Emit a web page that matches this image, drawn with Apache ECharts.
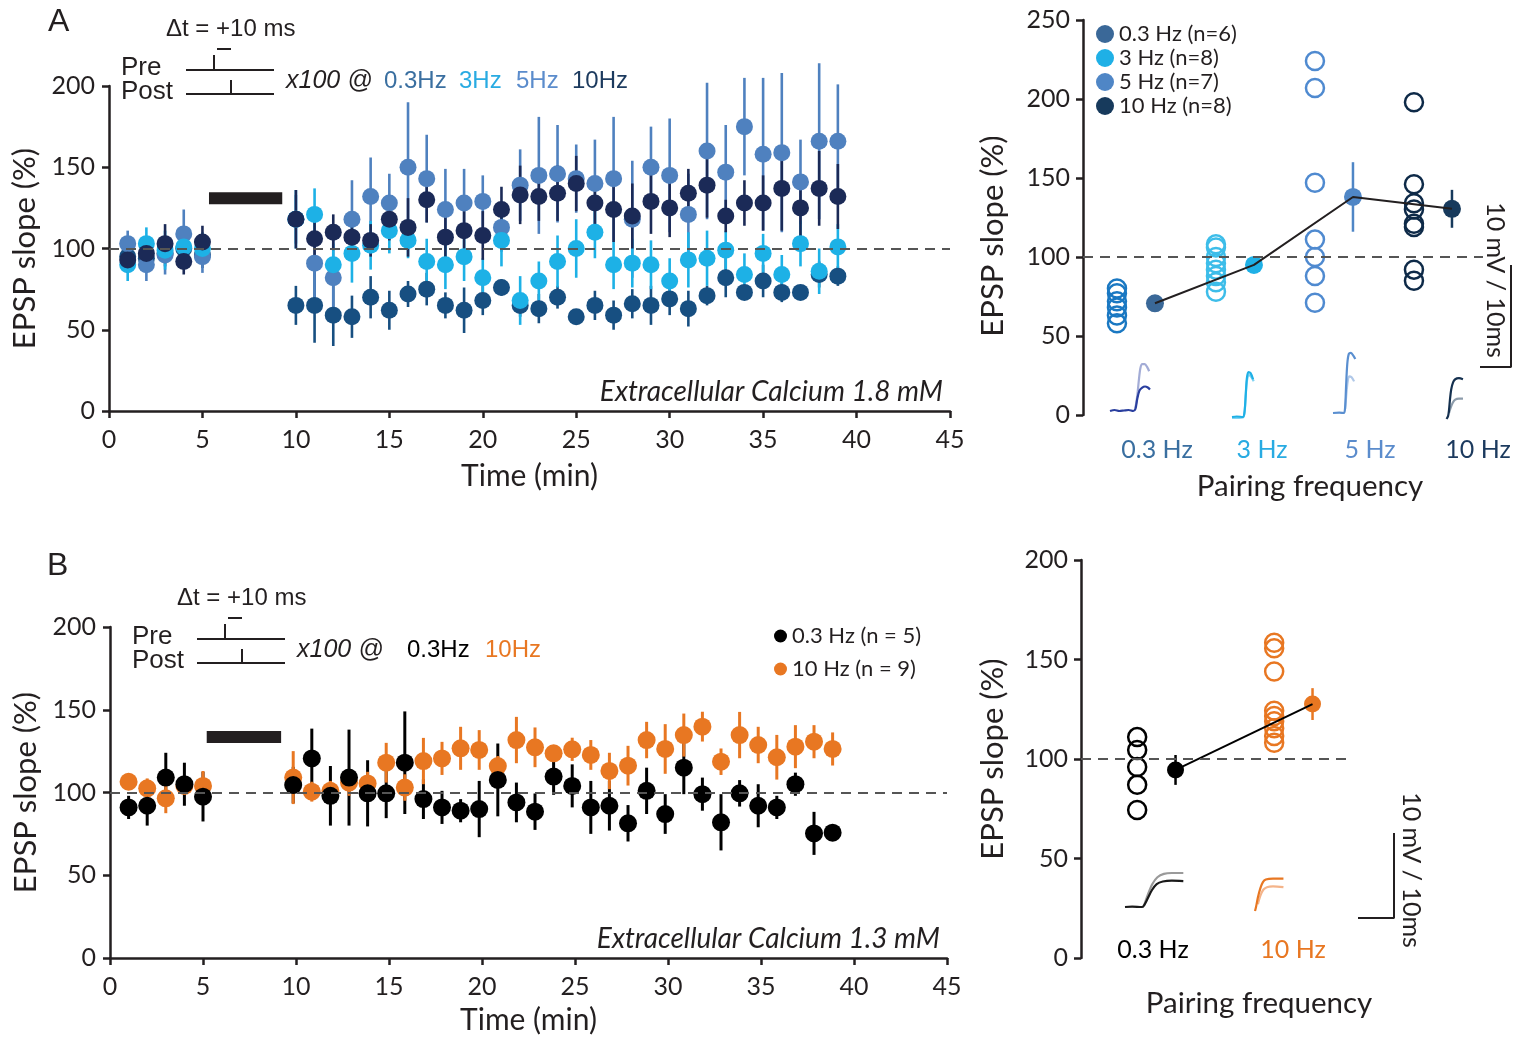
<!DOCTYPE html>
<html><head><meta charset="utf-8">
<script src="https://cdn.jsdelivr.net/npm/echarts@6/dist/echarts.min.js"></script>
<style>html,body{margin:0;padding:0;background:#fff}#c{width:1520px;height:1043px}</style>
</head><body><div id="c"></div><script>
// ---------- DATA ----------
// Panel A (Extracellular Ca 1.8 mM): time (min)
const timeA = [1,2,3,4,5,10,11,12,13,14,15,16,17,18,19,20,21,22,23,24,25,26,27,28,29,30,31,32,33,34,35,36,37,38,39];
const a03  = [95,94,97,100,96, 65,65,59,58,70, 62,72,75,65,62, 68,76,65,63,70, 58,65,59,66,65, 69,63,71,82,73, 80,73,73,84,83];
const a03e = [8,8,8,8,8, 12,23,19,13,13, 12,8,10,8,14, 9,5,7,9,7, 4,9,9,9,12, 10,11,6,12,4, 10,6,4,8,6];
const a3   = [90,103,99,101,100, 118,121,90,97,102, 111,105,92,90,95, 82,105,68,80,92, 100,110,90,91,90, 80,93,94,99,84, 97,84,103,86,101];
const a3e  = [10,10,12,10,10, 18,16,13,18,15, 14,11,14,15,15, 12,16,15,12,16, 18,16,15,15,15, 14,17,17,12,13, 12,12,14,14,14];
const a5   = [103,90,96,109,95, 118,91,82,118,132, 128,150,143,124,128, 129,113,139,145,146, 143,140,143,118,150, 145,121,160,147,175, 158,159,141,166,166];
const a5e  = [8,10,12,15,10, 15,25,25,24,24, 18,40,27,25,21, 16,15,22,36,30, 21,27,38,36,25, 35,25,42,29,30, 47,49,26,48,35];
const a10  = [93,97,103,92,104, 118,106,110,107,105, 118,113,130,107,111, 108,124,133,132,134, 140,128,124,120,129, 125,134,139,120,128, 128,137,125,137,132];
const a10e = [8,8,12,8,10, 18,11,11,10,10, 13,18,14,14,12, 15,14,18,15,17, 17,15,20,20,20, 18,15,20,10,14, 17,26,20,23,20];
const pairingA = [5.35, 9.27]; const pairingLevelA = 131;

// Panel A right: individual cells and means per pairing frequency
const freqA = ['0.3 Hz','3 Hz','5 Hz','10 Hz'];
const legendA = ['0.3 Hz (n=6)','3 Hz (n=8)','5 Hz (n=7)','10 Hz (n=8)'];
const cellsA03 = [80,77,72,68,63,58];
const cellsA3  = [108,106,100,96,92,88,84,78];
const cellsA5  = [224,207,147,111,100,88,71];
const cellsA10 = [198,146,134,130,121,119,92,85];
const meanA = [70.7,95,138,130.5];
const semA  = [3,3,22,12];

// Panel B (Extracellular Ca 1.3 mM)
const timeB = [1,2,3,4,5,9.85,10.85,11.85,12.85,13.85,14.85,15.85,16.85,17.85,18.85,19.85,20.85,21.85,22.85,23.85,24.85,25.85,26.85,27.85,28.85,29.85,30.85,31.85,32.85,33.85,34.85,35.85,36.85,37.85,38.85];
const b03  = [91,92,109,105,97.5, 104.5,120.6,98,109,99.5, 99.5,118,96,91,89, 90,107.6,94,88.4,109.6, 104,91,92,81.4,101, 87,115,99,82,99.5, 92,91,105,75.3,75.7];
const b03e = [7,12,15,13,15, 11,18,18,29,20, 15,31,12,10,7, 17,22,12,11,11, 13,16,15,11,14, 12,16,10,17,8, 13,7,7,13,0];
const b10  = [106.5,102.5,96.5,104,104, 109,100.5,101,106,105.5, 118,103,119,120.6,126.7, 125.7,116,131.7,127.3,123.7, 126.1,122.7,113,116.2,131.7, 126.3,134.7,139.8,118.6,134.7, 128.7,121.3,127.7,130.7,126.3];
const b10e = [5,6,9,5,9, 16,6,6,8,7, 12,8,14,10,13, 12,6,14,12,5, 7,9,11,12,11, 15,13,9,8,14, 11,13.5,13,10,10];
const pairingB = [5.2, 9.2]; const pairingLevelB = 133.5;

const freqB = ['0.3 Hz','10 Hz'];
const legendB = ['0.3 Hz (n = 5)','10 Hz (n = 9)'];
const cellsB03 = [111,104.5,96,87,74.4];
const cellsB10 = [158.4,155.6,144,124.3,121.6,119,115.4,111.6,108.2];
const meanB = [94.5,127.6];
const semB  = [7.5,8];

// Example EPSP traces: [ms, mV]
const trA03a = [[0,0],[1.5,0.1],[3,0],[4.5,0.05],[6,0.1],[7.5,0],[8.2,0.2],[8.8,1.2],[9.5,2],[10.4,2.3],[11.3,2.4],[12.2,2.3],[12.9,2.1]];
const trA03b = [[8.2,0.3],[8.8,1.5],[9.3,3],[9.8,4.2],[10.4,4.6],[11.2,4.6],[12,4.3],[12.6,3.9]];
const trA3a  = [[0,0],[1.5,0.05],[3.5,0],[4,0.4],[4.4,2],[4.8,3.8],[5.3,4.4],[6,4.3],[6.8,3.7]];
const trA3b  = [[0,-0.1],[3.5,-0.05],[4.1,0.6],[4.5,2.5],[4.9,3.7],[5.5,4.1],[6.3,3.9],[7,3.5]];
const trA5a  = [[0,0],[2,0.03],[3.5,0],[3.9,0.5],[4.2,2.5],[4.6,4.8],[5.1,5.8],[5.8,5.9],[6.6,5.6],[7.2,5.3]];
const trA5b  = [[3.9,0.4],[4.3,1.8],[4.7,3],[5.2,3.6],[6,3.5],[6.8,3.1]];
const trA10a = [[0.5,-0.1],[1,0.2],[1.3,0.8],[1.6,1.8],[2,2.8],[2.6,3.5],[3.3,3.8],[4.5,3.9],[5.8,3.8]];
const trA10b = [[1.3,0.5],[1.8,1],[2.5,1.5],[3.3,1.8],[4.5,1.9],[5.8,1.9]];
const trB03a = [[0,0],[2,0.05],[4.7,0],[5.3,0.2],[6.3,1],[7.5,2],[8.8,2.7],[10.5,3],[13,3.1],[16.2,3.05]];
const trB03b = [[5.3,0.2],[6.3,1.4],[7.6,2.7],[9,3.5],[10.8,3.9],[13,4],[16.2,4]];
const trB10a = [[0,0],[0.3,0.5],[0.8,1.6],[1.5,2.7],[2.2,3.4],[3,3.7],[5,3.8],[7.9,3.8]];
const trB10b = [[0.8,0.8],[1.5,1.8],[2.3,2.5],[3.3,2.8],[5,2.9],[7.9,2.8]];
const scaleBar = [[-10,0],[0,0],[0,10]]; // 10 ms / 10 mV

// ---------- STYLE ----------
const INK = '#231f20';
const colA = {c03:'#174f81', c3:'#1db1e6', c5:'#4f81bf', c10:'#1b2a57'};
const colMean = ['#3a6898','#1fb0e6','#4f86c6','#173a5c'];
const colOpen = ['#1a78c2','#3dbde9','#4f8ad0','#0e2a48'];
const ORANGE = '#e87722';
const FONT = 'Lato';
const TICKFS = 25, NAMEFS = 31;

const grids=[], xAxes=[], yAxes=[], series=[];
function addGrid(g, xa, ya){ grids.push(g); const i=grids.length-1; xAxes.push(Object.assign({gridIndex:i},xa)); yAxes.push(Object.assign({gridIndex:i},ya)); return i; }
function axisBase(extra){
  return Object.assign({type:'value', axisLine:{show:true,onZero:false,lineStyle:{color:INK,width:2.5}},
    axisTick:{show:true,length:7,lineStyle:{color:INK,width:2.5}},
    axisLabel:{color:INK,fontFamily:FONT,fontSize:TICKFS,margin:14},
    splitLine:{show:false}, nameTextStyle:{color:INK,fontFamily:FONT,fontSize:NAMEFS}}, extra);
}
const hidden = (min,max)=>({type:'value',show:false,min,max,splitLine:{show:false}});
function errSeries(ax, xs, ys, es, color, w){
  return {type:'custom', xAxisIndex:ax, yAxisIndex:ax, silent:true,
    data: xs.map((x,i)=>[x, ys[i]-es[i], ys[i]+es[i]]), encode:{x:0,y:[1,2]},
    renderItem:(p,api)=>{ const a=api.coord([api.value(0),api.value(1)]), b=api.coord([api.value(0),api.value(2)]);
      return {type:'line', shape:{x1:a[0],y1:a[1],x2:b[0],y2:b[1]}, style:{stroke:color,lineWidth:w}}; }};
}
function dotSeries(ax, xs, ys, color, size, name){
  return {type:'scatter', name, xAxisIndex:ax, yAxisIndex:ax, symbol:'circle', symbolSize:size, silent:true,
    itemStyle:{color, opacity:1}, data: xs.map((x,i)=>[x,ys[i]])};
}
function openSeries(ax, xpos, ys, color){
  return {type:'scatter', xAxisIndex:ax, yAxisIndex:ax, symbol:'circle', symbolSize:18, silent:true,
    itemStyle:{color:'rgba(0,0,0,0)', borderColor:color, borderWidth:2.5, opacity:1}, data: ys.map(v=>[xpos,v])};
}
const dash100 = {silent:true, symbol:'none', label:{show:false}, lineStyle:{color:'#555',width:2,type:[10,7]}, data:[{yAxis:100}]};
const timeAxis = (gap)=>axisBase({min:0,max:45,interval:5,axisLabel:{color:INK,fontFamily:FONT,fontSize:TICKFS,margin:16},
  name:'Time (min)',nameLocation:'middle',nameGap:gap,nameTextStyle:{color:INK,fontFamily:FONT,fontSize:30}});

// ---------- PANEL A LEFT ----------
const gAL = addGrid({left:109,top:86,width:841,height:325},
  timeAxis(50),
  axisBase({min:0,max:200,interval:50,name:'EPSP slope (%)',nameLocation:'middle',nameGap:68}));
series.push({type:'line',xAxisIndex:gAL,yAxisIndex:gAL,silent:true,symbol:'none',data:[],markLine:Object.assign({},dash100)});
series.push({type:'line',xAxisIndex:gAL,yAxisIndex:gAL,silent:true,symbol:'none',lineStyle:{color:INK,width:12,cap:'butt'},
  data:pairingA.map(t=>[t,pairingLevelA])});
[[a03,a03e,colA.c03],[a5,a5e,colA.c5],[a3,a3e,colA.c3],[a10,a10e,colA.c10]].forEach(([v,e,c])=>{
  series.push(errSeries(gAL,timeA,v,e,c,2.6));
  series.push(dotSeries(gAL,timeA,v,c,17));
});

// ---------- PANEL A RIGHT ----------
const unitA = 99, openOffA = 0.343, meanOffA = 0.727;
const gAR = addGrid({left:1083,top:20,width:400,height:395},
  hidden(0,400/unitA),
  axisBase({min:0,max:250,interval:50,axisLabel:{color:INK,fontFamily:FONT,fontSize:TICKFS,margin:13}}));
series.push({type:'line',xAxisIndex:gAR,yAxisIndex:gAR,silent:true,symbol:'none',data:[],markLine:Object.assign({},dash100)});
[cellsA03,cellsA3,cellsA5,cellsA10].forEach((cells,k)=>series.push(openSeries(gAR,k+openOffA,cells,colOpen[k])));
series.push({type:'line',xAxisIndex:gAR,yAxisIndex:gAR,silent:true,symbol:'none',lineStyle:{color:INK,width:2},
  data:meanA.map((m,k)=>[k+meanOffA,m])});
meanA.forEach((m,k)=>{
  series.push(errSeries(gAR,[k+meanOffA],[m],[semA[k]],colMean[k],2.5));
  series.push(dotSeries(gAR,[k+meanOffA],[m],colMean[k],18,legendA[k]));
});

// ---------- PANEL B LEFT ----------
const gBL = addGrid({left:110,top:627,width:837,height:331},
  timeAxis(47),
  axisBase({min:0,max:200,interval:50,name:'EPSP slope (%)',nameLocation:'middle',nameGap:68}));
series.push({type:'line',xAxisIndex:gBL,yAxisIndex:gBL,silent:true,symbol:'none',data:[],markLine:Object.assign({},dash100)});
series.push({type:'line',xAxisIndex:gBL,yAxisIndex:gBL,silent:true,symbol:'none',lineStyle:{color:INK,width:12,cap:'butt'},
  data:pairingB.map(t=>[t,pairingLevelB])});
series.push(errSeries(gBL,timeB,b03,b03e,'#000',3));
series.push(errSeries(gBL,timeB,b10,b10e,ORANGE,3));
series.push(dotSeries(gBL,timeB,b10,ORANGE,18,legendB[1]));
series.push(dotSeries(gBL,timeB,b03,'#000',18,legendB[0]));

// ---------- PANEL B RIGHT ----------
const unitB = 137, openOffB = 0.41, meanOffB = 0.69;
const gBR = addGrid({left:1081,top:560,width:265,height:398},
  hidden(0,265/unitB),
  axisBase({min:0,max:200,interval:50,axisLabel:{color:INK,fontFamily:FONT,fontSize:TICKFS,margin:13},name:'EPSP slope (%)',nameLocation:'middle',nameGap:73}));
series.push({type:'line',xAxisIndex:gBR,yAxisIndex:gBR,silent:true,symbol:'none',data:[],markLine:Object.assign({},dash100)});
const colB = ['#000',ORANGE];
[cellsB03,cellsB10].forEach((cells,k)=>series.push(openSeries(gBR,k+openOffB,cells,colB[k])));
series.push({type:'line',xAxisIndex:gBR,yAxisIndex:gBR,silent:true,symbol:'none',lineStyle:{color:'#000',width:2},
  data:meanB.map((m,k)=>[k+meanOffB,m])});
meanB.forEach((m,k)=>{
  series.push(errSeries(gBR,[k+meanOffB],[m],[semB[k]],colB[k],2.5));
  series.push(dotSeries(gBR,[k+meanOffB],[m],colB[k],17));
});

// ---------- TRACE INSETS & SCALE BARS ----------
function inset(x0, y0, pxms, pxmv, xmax, ymin, ymax, traces){
  const g = addGrid({left:x0, top:y0-ymax*pxmv, width:xmax*pxms, height:(ymax-ymin)*pxmv}, hidden(0,xmax), hidden(ymin,ymax));
  traces.forEach(([d,c])=>series.push({type:'line',xAxisIndex:g,yAxisIndex:g,silent:true,symbol:'none',smooth:0.3,
    lineStyle:{color:c,width:2.2},data:d}));
}
inset(1110,411,3.1,10.2,14,-0.5,6.5,[[trA03b,'#a3acd6'],[trA03a,'#2a3f9f']]);
inset(1232,417,3.1,10.2,14,-0.5,6.5,[[trA3b,'#7fd3f2'],[trA3a,'#1fb0e6']]);
inset(1333,413,3.1,10.2,14,-0.5,6.5,[[trA5b,'#b0c8e8'],[trA5a,'#5a8fd0']]);
inset(1445,418,3.1,10.2,14,-0.5,6.5,[[trA10b,'#8d9cab'],[trA10a,'#14304f']]);
inset(1125,907,3.6,8.5,18,-0.5,5,[[trB03b,'#9a9a9a'],[trB03a,'#1a1a1a']]);
inset(1255,911,3.6,8.5,18,-0.5,5,[[trB10b,'#f4b48a'],[trB10a,ORANGE]]);
function bar(left, top, w, h){
  const g = addGrid({left,top,width:w,height:h}, hidden(-10,0), hidden(0,10));
  series.push({type:'line',xAxisIndex:g,yAxisIndex:g,silent:true,symbol:'none',lineStyle:{color:INK,width:2},data:scaleBar});
}
bar(1480,265,31,102);
bar(1358,833,36,85);

// ---------- TEXT / SCHEMATIC ----------
const T = (x,y,text,o)=>Object.assign({type:'text',x,y,silent:true,style:Object.assign({text,fill:INK,fontFamily:FONT,fontSize:24,align:'left',verticalAlign:'middle'},o||{})});
const L = (pts)=>({type:'polyline',silent:true,shape:{points:pts},style:{stroke:INK,lineWidth:2,fill:null}});
const HV = 'Liberation Sans';
function schematic(dx,dy){
  return [
    T(166+dx,29+dy,'\u0394t = +10 ms',{fontFamily:HV,fontSize:24}),
    T(121+dx,68+dy,'Pre',{fontFamily:HV,fontSize:26}),
    T(121+dx,92+dy,'Post',{fontFamily:HV,fontSize:26}),
    L([[186+dx,70+dy],[214+dx,70+dy],[214+dx,55+dy],[214+dx,70+dy],[274+dx,70+dy]]),
    L([[217+dx,49+dy],[231+dx,49+dy]]),
    L([[186+dx,94+dy],[231+dx,94+dy],[231+dx,80+dy],[231+dx,94+dy],[274+dx,94+dy]]),
    T(286+dx,81+dy,'x100 @',{fontFamily:HV,fontSize:25,fontStyle:'italic'})
  ];
}
const graphic = [
  T(48,22,'A',{fontFamily:HV,fontSize:32}),
  T(47,566,'B',{fontFamily:HV,fontSize:32}),
  ...schematic(0,0),
  T(384,81,'0.3Hz',{fontFamily:HV,fill:'#3a6fa0'}),
  T(459,81,'3Hz',{fontFamily:HV,fill:'#29abe2'}),
  T(516,81,'5Hz',{fontFamily:HV,fill:'#5b8ccc'}),
  T(572,81,'10Hz',{fontFamily:HV,fill:'#1c3a5e'}),
  ...schematic(11,569),
  T(407,650,'0.3Hz',{fontFamily:HV,fill:'#000'}),
  T(485,650,'10Hz',{fontFamily:HV,fill:ORANGE}),
  T(943,392,'Extracellular Calcium 1.8 mM',{align:'right',fontStyle:'italic',fontSize:28}),
  T(940,939,'Extracellular Calcium 1.3 mM',{align:'right',fontStyle:'italic',fontSize:28}),
  T(1310,486,'Pairing frequency',{align:'center',fontSize:29.5}),
  T(1259,1003,'Pairing frequency',{align:'center',fontSize:29.5}),
  Object.assign(T(993,236,'EPSP slope (%)',{align:'center',fontSize:NAMEFS}),{rotation:Math.PI/2}),
  ...freqA.map((f,k)=>T([1157,1262,1370,1478][k],450,f,{align:'center',fontSize:25,fill:['#3a6fa0','#29abe2','#5b8ccc','#1c3a5e'][k]})),
  ...freqB.map((f,k)=>T([1153,1293][k],950,f,{align:'center',fontSize:25,fill:['#000',ORANGE][k]})),
  Object.assign(T(1495,280,'10 mV / 10ms',{align:'center',fontSize:25}),{rotation:-Math.PI/2}),
  Object.assign(T(1411,870,'10 mV / 10ms',{align:'center',fontSize:25}),{rotation:-Math.PI/2})
];

const option = {
  animation:false, backgroundColor:'#fff',
  grid:grids, xAxis:xAxes, yAxis:yAxes, series, graphic,
  legend:[
    {data:legendA.map(n=>({name:n,icon:'circle'})), left:1096, top:23, orient:'vertical', padding:0, itemGap:2,
     itemWidth:18, itemHeight:18, selectedMode:false, textStyle:{color:INK,fontFamily:FONT,fontSize:22}},
    {data:legendB.map(n=>({name:n,icon:'circle'})), left:774, top:625, orient:'vertical', padding:0, itemGap:11,
     itemWidth:13, itemHeight:13, selectedMode:false, textStyle:{color:INK,fontFamily:FONT,fontSize:22}}
  ]
};
const chart = echarts.init(document.getElementById('c'));
chart.setOption(option);
</script></body></html>
